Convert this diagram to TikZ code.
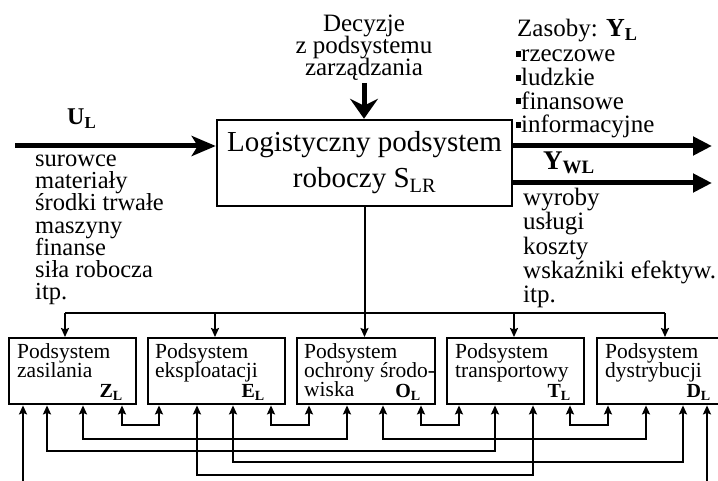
\documentclass[tikz,border=0pt]{standalone}
\usepackage{fontspec}
\setmainfont{Liberation Serif}
\usetikzlibrary{arrows.meta}
\newcommand{\tightlines}{\lineskiplimit=-100pt\relax}
\begin{document}
\begin{tikzpicture}[x=1pt,y=-1pt,
  mainbox/.style={draw, line width=2.5pt, inner sep=0pt, minimum width=295pt, minimum height=86pt, align=center, font=\fontsize{29}{36}\selectfont\tightlines},
  subbox/.style={draw, line width=2.4pt, inner sep=0pt, minimum height=66pt, anchor=north west},
  bigarrow/.style={line width=5pt, -{Triangle[length=19pt,width=18pt]}},
  decarrow/.style={line width=5pt, -{Stealth[length=20pt,width=28pt,inset=7pt]}},
  inarrow/.style={line width=5pt, -{Stealth[length=24pt,width=20pt,inset=6pt]}},
  tip/.tip={Stealth[length=9pt,width=8pt,inset=1.5pt]},
  link/.style={line width=2pt, tip-tip},
  uparrow/.style={line width=2pt, -tip},
  sidetxt/.style={inner sep=0pt, align=left, anchor=base west, font=\fontsize{24.5}{22.3}\selectfont\tightlines},
  righttxt/.style={inner sep=0pt, align=left, anchor=base west, font=\fontsize{25}{24.5}\selectfont\tightlines},
  dectxt/.style={inner sep=0pt, align=center, anchor=base, font=\fontsize{25}{22}\selectfont\tightlines},
  boxtxt/.style={inner sep=0pt, align=left, anchor=base west, font=\fontsize{21.5}{19}\selectfont\tightlines},
  boxlab/.style={inner sep=0pt, anchor=base east, font=\fontsize{20}{20}\selectfont\bfseries},
  biglab/.style={inner sep=0pt, anchor=base west, font=\fontsize{25}{25}\selectfont\bfseries}]
\useasboundingbox (0,0) rectangle (718,481);
\clip (0,0) rectangle (718,481);

% main box
\node[mainbox] (main) at (364.5,163) {Logistyczny podsystem\\roboczy S\textsubscript{LR}};

% decision (anchor = baseline of last line)
\node[dectxt] (dec) at (364,76) {Decyzje\\z podsystemu\\zarządzania};
\coordinate (decin) at (364,83);
\draw[decarrow] (decin) -- (decin |- main.north);

% input
\coordinate (uin) at (15,146);
\draw[inarrow] (uin) -- (uin -| main.west);
\node[biglab, font=\fontsize{24}{24}\selectfont\bfseries] (ul) at (67,125) {U\textsubscript{L}};
\node[sidetxt] (intxt) at (35,300) {surowce\\materiały\\środki trwałe\\maszyny\\finanse\\siła robocza\\itp.};

% outputs
\coordinate (yl) at (712,146);
\coordinate (ywl) at (712,183);
\draw[bigarrow] (yl -| main.east) -- (yl);
\draw[bigarrow] (ywl -| main.east) -- (ywl);
\node[righttxt] (zas) at (517,37) {Zasoby: {\bfseries\fontsize{26}{26}\selectfont Y\textsubscript{L}}};
\node[righttxt, font=\fontsize{25}{23.7}\selectfont\tightlines] (res) at (516,133) {\raisebox{5pt}{\rule{5pt}{6pt}}rzeczowe\\\raisebox{5pt}{\rule{5pt}{6pt}}ludzkie\\\raisebox{5pt}{\rule{5pt}{6pt}}finansowe\\\raisebox{5pt}{\rule{5pt}{6pt}}informacyjne};
\node[biglab, font=\fontsize{27}{27}\selectfont\bfseries] (ywllab) at (543,170) {Y\textsubscript{WL}};
\node[righttxt] (outtxt) at (523,303) {wyroby\\usługi\\koszty\\wskaźniki efektyw.\\itp.};

% subsystem boxes
\node[subbox, minimum width=127pt] (z) at (8,337) {};
\node[subbox, minimum width=137pt] (e) at (147,337) {};
\node[subbox, minimum width=138pt] (o) at (296,337) {};
\node[subbox, minimum width=137pt] (t) at (446,337) {};
\node[subbox, minimum width=150pt] (d) at (596,337) {};

\node[boxtxt] (zt) at (17,377) {Podsystem\\zasilania};
\node[boxtxt] (et) at (155,377) {Podsystem\\eksploatacji};
\node[boxtxt] (ot) at (304,396) {Podsystem\\ochrony środo-\\wiska};
\node[boxtxt] (tt) at (455,377) {Podsystem\\transportowy};
\node[boxtxt] (dt) at (605,377) {Podsystem\\dystrybucji};

\node[boxlab] (zl) at (123,397) {Z\textsubscript{L}};
\node[boxlab] (el) at (265,397) {E\textsubscript{L}};
\node[boxlab] (ol) at (421,397) {O\textsubscript{L}};
\node[boxlab] (tl) at (571,397) {T\textsubscript{L}};
\node[boxlab] (dl) at (711,397) {D\textsubscript{L}};

% distribution bus
\coordinate (bz) at (65,313);
\coordinate (be) at (215,313);
\coordinate (bt) at (514,313);
\coordinate (bd) at (665,313);
\draw[line width=2pt] (bz) -- (bd);
\draw[uparrow] (main.south) -- (main.south |- o.north);
\draw[uparrow] (bz) -- (bz |- z.north);
\draw[uparrow] (be) -- (be |- e.north);
\draw[uparrow] (bt) -- (bt |- t.north);
\draw[uparrow] (bd) -- (bd |- d.north);

% links between subsystems
\draw[link] ([xshift=114pt]z.south west) -- ++(0,20) -| ([xshift=12pt]e.south west);
\draw[link] ([xshift=124pt]e.south west) -- ++(0,20) -| ([xshift=13pt]o.south west);
\draw[link] ([xshift=125pt]o.south west) -- ++(0,20) -| ([xshift=13pt]t.south west);
\draw[link] ([xshift=124pt]t.south west) -- ++(0,20) -| ([xshift=12pt]d.south west);
\draw[link] ([xshift=75pt]z.south west) -- ++(0,34) -| ([xshift=51pt]o.south west);
\draw[link] ([xshift=87pt]o.south west) -- ++(0,34) -| ([xshift=50pt]d.south west);
\draw[link] ([xshift=39pt]z.south west) -- ++(0,46) -| ([xshift=49pt]t.south west);
\draw[link] ([xshift=86pt]e.south west) -- ++(0,57) -| ([xshift=87pt]d.south west);
\draw[link] ([xshift=50pt]e.south west) -- ++(0,70) -| ([xshift=87pt]t.south west);

% external inputs
\coordinate (zin) at (23,485);
\coordinate (din) at (707,485);
\draw[uparrow] (zin) -- (zin |- z.south);
\draw[uparrow] (din) -- (din |- d.south);
\end{tikzpicture}
\end{document}
